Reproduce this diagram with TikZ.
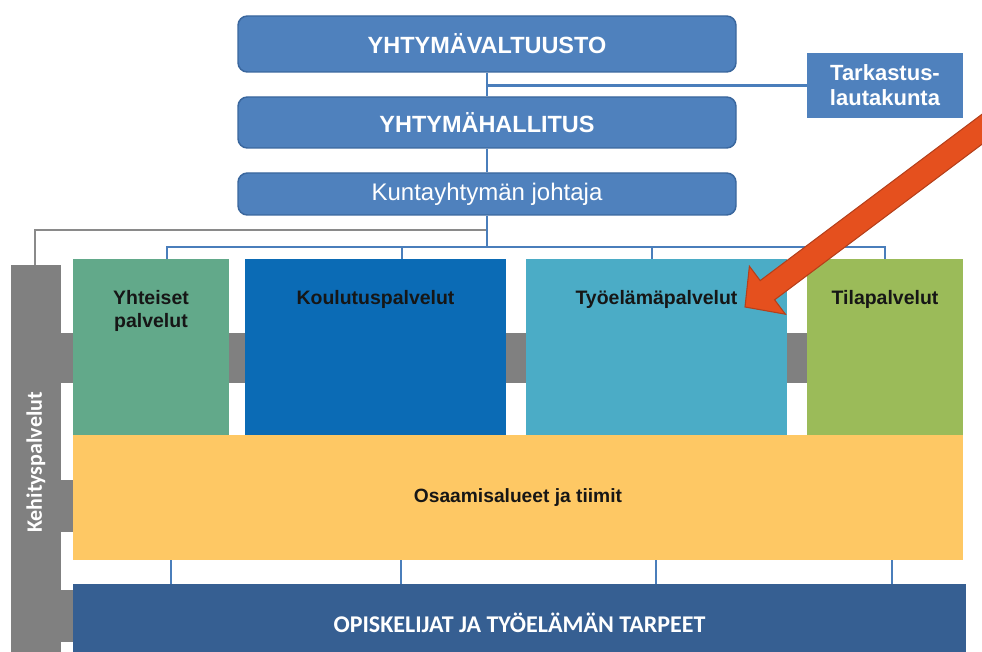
\documentclass[tikz,border=0pt]{standalone}
\usepackage{fontspec}
\setmainfont{Liberation Sans}
\newfontfamily\calfont{Carlito}
\usetikzlibrary{fit}

\definecolor{hdrblue}{HTML}{4F81BD}
\definecolor{hdredge}{HTML}{3A679E}
\definecolor{linkblue}{HTML}{4A7EBB}
\definecolor{midgray}{HTML}{808080}
\definecolor{linkgray}{HTML}{8A8A8A}
\definecolor{sagegreen}{HTML}{62A98A}
\definecolor{deepblue}{HTML}{0B6BB5}
\definecolor{tealblue}{HTML}{4BACC6}
\definecolor{olivegreen}{HTML}{9BBB59}
\definecolor{sand}{HTML}{FEC864}
\definecolor{navy}{HTML}{365F92}
\definecolor{arrowfill}{HTML}{E5501E}
\definecolor{arrowedge}{HTML}{B5401B}
\definecolor{labelink}{HTML}{161616}

\begin{document}
\begin{tikzpicture}[x=0.75pt,y=-0.75pt,
  pxsize/.style 2 args={minimum width=#1*0.75pt, minimum height=#2*0.75pt},
  board/.style={fill=hdrblue, draw=hdredge, line width=1.1pt, rounded corners=7pt,
    inner sep=0pt, text=white},
  hdrfont/.style={font=\fontsize{17.6}{20}\selectfont\bfseries},
  plainfont/.style={font=\fontsize{18}{21}\selectfont},
  panel/.style={inner sep=0pt, outer sep=0pt},
  plabel/.style={anchor=north, yshift=-23.2pt, inner sep=0pt, align=center,
    text=labelink, font=\fontsize{14.6}{17.2}\selectfont\bfseries},
  blueline/.style={draw=linkblue, line width=1.6pt},
  grayline/.style={draw=linkgray, line width=1.7pt},
  band/.style={fill=midgray}
]
\useasboundingbox (0,0) rectangle (982,652);
\clip (0,0) rectangle (982,652);

% governing bodies
\node[board, hdrfont, pxsize={498}{56}] (val) at (487,44) {YHTYMÄVALTUUSTO};
\node[board, hdrfont, pxsize={498}{51}] (hal) at (487,122.5) {YHTYMÄHALLITUS};
\node[board, plainfont, pxsize={498}{42}] (joh) at (487,194) {Kuntayhtymän johtaja};
\node[fill=hdrblue, inner sep=0pt, text=white, align=center,
  font=\fontsize{16.5}{18.8}\selectfont\bfseries,
  pxsize={156}{65}] (tar) at (885,85.5) {Tarkastus-\\lautakunta};

% development services column
\node[panel, fill=midgray, fit={(11,265) (61,660)},
  label={[rotate=90, text=white, inner sep=0pt,
    font=\calfont\bfseries\fontsize{16.5}{20}\selectfont]center:Kehityspalvelut}] (keh) {};

% gray bands joining the column and the service units
\fill[band] (keh.east |- 0,333) rectangle (229,383);
\fill[band] (keh.east |- 0,480) rectangle (73,532);
\fill[band] (keh.east |- 0,590) rectangle (73,642);
\fill[band] (229,333) rectangle (245,383);
\fill[band] (506,333) rectangle (526,383);
\fill[band] (787,333) rectangle (807,383);

% service units
\node[panel, fill=sagegreen, fit={(73,259) (229,435)},
  label={[plabel]north:{Yhteiset\\palvelut}}] (yht) {};
\node[panel, fill=deepblue, fit={(245,259) (506,435)},
  label={[plabel]north:Koulutuspalvelut}] (kou) {};
\node[panel, fill=tealblue, fit={(526,259) (787,435)},
  label={[plabel]north:Työelämäpalvelut}] (tye) {};
\node[panel, fill=olivegreen, fit={(807,259) (963,435)},
  label={[plabel]north:Tilapalvelut}] (til) {};

% competence areas and base
\node[panel, fill=sand, text=labelink, font=\fontsize{14.4}{17}\selectfont\bfseries,
  pxsize={890}{125}] (osa) at (518,497.5) {Osaamisalueet ja tiimit};
\node[panel, fill=navy, text=white, font=\calfont\bfseries\fontsize{18}{21}\selectfont,
  pxsize={893}{78}] (opi) at (519.5,623) {OPISKELIJAT JA TYÖELÄMÄN TARPEET};

% gray link to the development column
\draw[grayline] (joh.south |- 0,230) -| (keh.north -| 35,0);

% reporting lines
\draw[blueline] (val) -- (hal);
\draw[blueline] (hal) -- (joh);
\draw[blueline] (tar.west) -- (tar.west -| val.south);
\draw[blueline] (joh.south) -- (joh.south |- 0,247);
\draw[blueline] (yht.north -| 167,0) |- (til.north |- 0,247) -- (til.north);
\draw[blueline] (kou.north -| 402,0) -- ++(0,-12);
\draw[blueline] (tye.north -| 652,0) -- ++(0,-12);

% links between competence areas and the base
\foreach \xx in {171,401,656,892}
  \draw[blueline] (osa.south -| \xx,0) -- (opi.north -| \xx,0);

% pointer to the working-life services
\filldraw[fill=arrowfill, draw=arrowedge, line width=0.8pt, line join=miter]
  (745,307) -- (785.4,314.2) -- (774.6,299.8) -- (1008.2,124.6)
  -- (993.8,105.4) -- (760.2,280.6) -- (749.4,266.2) -- cycle;
\end{tikzpicture}
\end{document}
